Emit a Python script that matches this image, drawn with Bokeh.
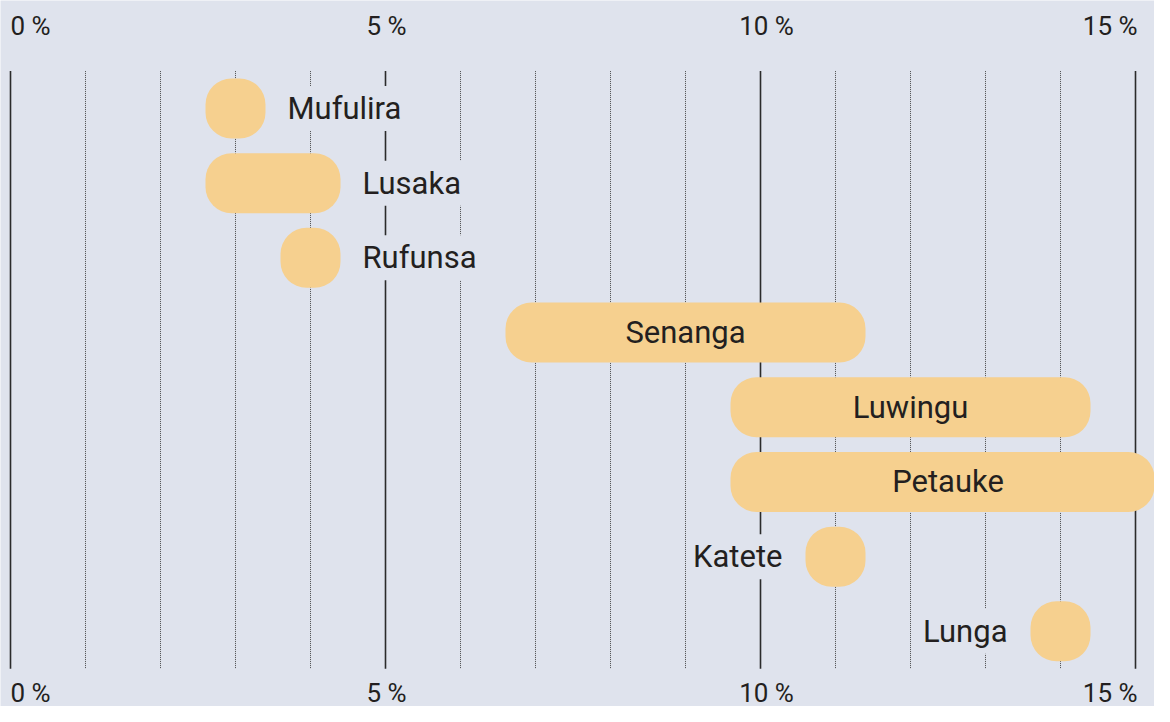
from bokeh.plotting import figure
from bokeh.models import Range1d, ColumnDataSource
from bokeh.core.properties import value
from bokeh.embed import file_html
from bokeh.resources import INLINE

# ---- data ----
cities = ["Mufulira", "Lusaka", "Rufunsa", "Senanga", "Luwingu", "Petauke", "Katete", "Lunga"]
low = [3, 3, 4, 7, 10, 10, 11, 14]
high = [3, 4, 4, 11, 14, 15, 11, 14]
label_side = ["right", "right", "right", "inside", "inside", "inside", "left", "left"]
major_ticks = [0, 5, 10, 15]
major_labels = ["0 %", "5 %", "10 %", "15 %"]
minor_ticks = [1, 2, 3, 4, 6, 7, 8, 9, 11, 12, 13, 14]

# ---- style ----
BG = "#dfe3ed"
BAR = "#f6d08f"
INK = "#231f20"
FONT = value("Roboto")
PAD = 0.4
W, H = 1154, 706
PX_X = 75.0
PX_Y = 74.7
TOP = 70.6  # pixel position of the row band top

x0 = -10 / PX_X
x_range = Range1d(x0, x0 + W / PX_X)
y_top = -0.5 - TOP / PX_Y
y_range = Range1d(y_top + H / PX_Y, y_top)

p = figure(width=W, height=H, x_range=x_range, y_range=y_range,
           output_backend="svg", toolbar_location=None,
           background_fill_color=BG, border_fill_color=BG,
           min_border=0, outline_line_color=None)
p.axis.visible = False
p.grid.visible = False

n = len(cities)
ys = list(range(n))

# grid lines
p.segment(x0=minor_ticks, y0=[-0.5] * len(minor_ticks), x1=minor_ticks, y1=[n - 0.5] * len(minor_ticks),
          line_color="#4a4a4a", line_width=1, line_dash="1 1")
p.segment(x0=major_ticks, y0=[-0.5] * 4, x1=major_ticks, y1=[n - 0.5] * 4,
          line_color="#2b2b2b", line_width=1.6)

# bars
src = ColumnDataSource(dict(y=ys, left=[v - PAD for v in low], right=[v + PAD for v in high]))
p.hbar(y="y", left="left", right="right", height=0.803, source=src,
       fill_color=BAR, line_color=None, border_radius=26)

LABEL_SIZE = "31px"

def sub(side):
    return [i for i in range(n) if label_side[i] == side]

r = sub("right")
p.text(x=[high[i] + PAD for i in r], y=[ys[i] for i in r], text=[cities[i] for i in r],
       x_offset=18, text_align="left", text_baseline="middle",
       text_font=FONT, text_font_size=LABEL_SIZE, text_color=INK,
       background_fill_color=BG, padding=4)
l = sub("left")
p.text(x=[low[i] - PAD for i in l], y=[ys[i] for i in l], text=[cities[i] for i in l],
       x_offset=-19, text_align="right", text_baseline="middle",
       text_font=FONT, text_font_size=LABEL_SIZE, text_color=INK,
       background_fill_color=BG, padding=4)
c = sub("inside")
p.text(x=[(low[i] + high[i]) / 2 for i in c], y=[ys[i] for i in c], text=[cities[i] for i in c],
       text_align="center", text_baseline="middle",
       text_font=FONT, text_font_size=LABEL_SIZE, text_color=INK)

# tick labels top and bottom
y_lab_top = y_top + 25 / PX_Y
y_lab_bot = y_top + 692 / PX_Y
aligns = ["left", "center", "center", "right"]
offs = [0, 1, 6, 2]
for t, lab, al, off in zip(major_ticks, major_labels, aligns, offs):
    for yy in (y_lab_top, y_lab_bot):
        p.text(x=[t], y=[yy], text=[lab], x_offset=off, text_align=al, text_baseline="middle",
               text_font=FONT, text_font_size="26px", text_color=INK)

open("out.html", "w").write(file_html(p, INLINE))
